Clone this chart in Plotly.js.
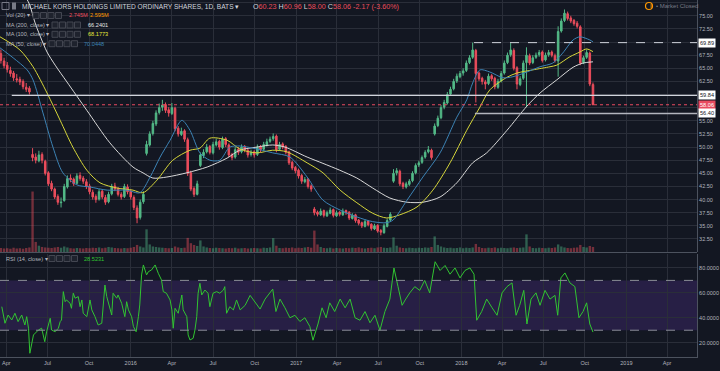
<!DOCTYPE html>
<html><head><meta charset="utf-8">
<script src="https://cdn.plot.ly/plotly-3.0.1.min.js"></script>
<style>html,body{margin:0;padding:0;background:#131722;}#chart{width:720px;height:371px;}</style>
</head><body><div id="chart"></div>
<script>
// ---------- DATA ----------
const originDate = Date.UTC(2015, 2, 18);   // day 0 of the chart
const candleStartDay = 2, candleStepDays = 7; // weekly candles
const openP = [
67.8,66.4,65.6,64.6,64.1,63.0,62.9,62.5,61.4,61.2,
48.6,48.1,47.4,48.6,47.3,45.1,43.1,42.0,40.6,39.4,
39.8,42.4,44.1,43.9,43.1,44.6,44.1,43.4,42.6,41.4,
40.6,40.1,41.6,40.4,39.6,41.1,42.6,42.1,41.0,40.6,
42.4,41.6,40.4,38.4,36.6,39.6,48.8,50.4,52.6,54.4,
56.6,57.6,58.1,57.1,56.4,57.4,53.6,52.4,53.1,51.4,
45.1,42.1,41.0,46.5,48.4,49.1,50.1,48.9,50.4,51.1,
49.9,51.6,50.4,48.6,48.1,49.6,49.1,50.1,49.4,48.6,
49.1,48.6,50.1,49.6,50.4,51.1,51.6,52.1,49.6,50.6,
50.1,49.1,47.1,46.1,45.6,44.6,43.4,43.9,42.6,38.2,
37.6,37.1,37.9,36.9,37.4,38.1,36.9,37.6,37.1,37.9,
37.6,36.4,37.1,36.1,35.6,34.9,35.9,35.3,34.4,35.1,
34.1,33.7,34.9,36.1,43.5,45.1,45.4,43.1,42.4,42.9,
43.6,45.1,46.6,47.1,48.1,49.1,49.4,52.5,54.1,55.6,
57.6,58.4,60.1,61.1,62.6,63.4,64.1,64.6,66.1,67.1,
68.4,64.1,63.1,62.4,62.1,63.6,63.1,61.4,62.6,64.1,
66.1,67.6,68.4,65.1,61.9,63.1,66.1,67.4,66.1,67.1,
67.6,68.1,66.6,67.6,68.1,67.4,66.4,72.1,74.1,75.4,
74.6,74.1,73.6,72.9,66.1,67.1,67.9,61.9];
const highP = [
68.6,67.0,66.2,65.3,64.5,63.9,63.4,62.9,62.2,61.6,
49.8,48.8,49.3,49.0,47.6,45.4,43.6,42.3,41.0,40.4,
43.0,44.6,44.8,44.2,45.0,45.2,44.5,43.9,43.0,41.9,
41.0,42.0,41.9,40.9,41.5,43.0,43.2,42.4,41.4,43.0,
42.9,41.9,40.8,38.9,40.0,41.6,51.2,53.0,55.0,57.0,
58.3,59.0,58.5,57.6,58.4,57.7,54.0,53.7,53.4,51.8,
45.5,42.5,43.6,49.0,49.6,50.6,50.4,51.0,51.6,51.4,
52.0,51.9,50.7,48.9,50.0,50.0,50.5,50.4,49.8,49.5,
49.4,50.5,50.4,51.0,51.6,52.0,52.6,52.4,51.0,50.9,
50.4,49.3,47.4,46.4,45.9,44.9,44.3,44.1,42.9,38.6,
37.9,38.3,38.1,37.9,38.5,38.3,37.9,37.8,38.3,38.1,
37.8,37.4,37.3,36.3,35.8,36.2,36.1,35.5,35.4,35.3,
34.4,35.4,36.4,37.6,45.8,46.0,45.7,43.4,43.4,43.9,
45.4,46.9,47.4,48.4,49.4,50.2,49.7,54.5,56.0,58.0,
59.0,60.5,61.5,63.0,64.0,64.5,65.0,66.5,67.5,69.9,
68.7,64.4,63.4,62.8,64.0,63.9,63.4,63.0,64.5,66.5,
68.0,69.8,68.8,65.4,63.5,66.5,69.0,67.8,67.5,68.0,
68.5,68.4,68.0,68.5,68.4,67.8,73.0,74.5,76.2,75.8,
75.0,74.4,74.0,73.2,67.4,68.6,68.2,62.3];
const lowP = [
65.9,65.0,64.2,63.4,62.6,62.3,61.8,61.0,60.5,60.0,
47.3,46.9,47.1,46.9,44.6,42.6,41.6,40.1,39.0,38.5,
39.6,42.1,43.3,42.6,42.9,43.6,43.0,42.0,41.0,40.0,
39.4,39.8,40.1,39.0,39.3,40.8,41.6,40.6,40.0,40.3,
41.0,40.0,38.0,35.5,36.2,39.2,48.4,50.1,52.2,54.0,
56.2,56.9,56.5,55.8,56.1,53.0,52.0,52.1,51.0,44.5,
41.6,40.5,40.8,46.2,47.9,48.8,48.6,48.6,50.1,49.5,
49.6,50.0,48.1,47.5,47.8,48.5,48.8,49.0,48.0,48.2,
48.0,48.3,49.0,49.3,50.1,50.8,51.2,49.0,49.3,49.6,
48.6,46.6,45.6,45.0,44.0,43.0,43.1,42.1,41.5,37.0,
36.8,36.9,36.6,36.7,37.2,36.6,36.7,36.8,36.9,37.1,
36.1,36.2,35.6,35.1,34.6,34.7,34.9,34.1,34.2,33.7,
33.2,33.5,34.7,35.8,43.2,44.6,42.6,42.0,42.1,42.6,
43.3,44.8,46.2,46.8,47.8,48.8,47.6,52.2,53.8,55.3,
57.2,58.1,59.8,60.8,62.2,63.1,63.6,64.3,65.8,66.8,
58.5,62.6,61.9,61.0,61.8,62.6,61.0,61.1,62.3,63.8,
65.8,67.2,64.6,61.0,61.6,62.8,57.6,65.6,65.8,66.8,
67.2,66.1,66.3,67.2,67.1,66.1,63.4,71.8,73.8,74.1,
73.6,73.1,72.6,65.6,65.8,66.8,61.6,58.0];
const closeP = [
66.5,65.5,64.8,64.0,63.2,62.8,62.4,61.5,61.0,60.5,
48.0,47.5,48.5,47.5,45.0,43.0,42.0,40.5,39.5,39.5,
42.5,44.0,43.8,43.0,44.5,44.0,43.5,42.5,41.5,40.5,
40.0,41.5,40.5,39.5,41.0,42.5,42.0,41.0,40.5,42.5,
41.5,40.5,38.5,36.5,39.5,41.0,50.5,52.5,54.5,56.5,
57.5,58.0,57.0,56.5,57.5,53.5,52.5,53.0,51.5,45.0,
42.0,41.0,43.0,48.5,49.0,50.0,49.0,50.5,51.0,50.0,
51.5,50.5,48.5,48.0,49.5,49.0,50.0,49.5,48.5,49.0,
48.5,50.0,49.5,50.5,51.0,51.5,52.0,49.5,50.5,50.0,
49.0,47.0,46.0,45.5,44.5,43.5,43.8,42.5,42.0,37.5,
37.2,37.8,37.0,37.5,38.0,37.0,37.5,37.2,37.8,37.5,
36.5,37.0,36.0,35.5,35.0,35.8,35.2,34.5,35.0,34.0,
33.8,35.0,36.0,37.2,45.0,45.5,43.0,42.5,43.0,43.5,
45.0,46.5,47.0,48.0,49.0,49.5,48.0,54.0,55.5,57.5,
58.5,60.0,61.0,62.5,63.5,64.0,64.5,66.0,67.0,68.5,
64.0,63.0,62.5,62.0,63.5,63.0,61.5,62.5,64.0,66.0,
67.5,68.5,65.0,62.0,63.0,66.0,67.5,66.0,67.0,67.5,
68.0,66.5,67.5,68.0,67.5,66.5,72.0,74.0,75.5,74.5,
74.0,73.5,73.0,66.0,67.0,68.0,62.0,58.06];
const volumeM = [
16,14,15,13,17,14,15,13,16,18,
240,40,25,20,18,17,16,18,20,17,
22,18,15,14,16,15,14,16,15,17,
16,18,15,17,20,18,16,15,14,16,
15,17,20,28,22,18,90,30,22,20,
18,17,16,15,16,22,18,16,17,56,
35,28,24,46,22,18,16,15,17,16,
15,14,16,15,17,14,15,16,14,15,
16,15,14,17,16,18,55,25,16,15,
17,16,18,15,17,16,18,20,17,85,
30,20,16,15,17,14,16,15,14,16,
15,17,16,18,15,14,16,17,15,18,
20,17,16,18,58,25,18,16,15,17,
16,15,17,16,18,17,20,62,28,22,
18,16,17,15,16,18,15,17,16,18,
32,20,16,15,17,16,18,15,17,16,
15,17,18,16,17,18,70,22,16,15,
17,16,15,17,16,18,30,22,18,16,
15,17,18,28,20,18,24,20];

const ma200Day = [57,66,77,88,104,122,148,192,243,294,316,338,369,413,458,502,530,568,603,630,679,714,751,789,824,862,900,935,973,1010,1045,1076,1121,1165,1194,1231,1267,1289,1311];
const ma200Val = [78.6,77.0,73.8,71.3,68.1,65.6,62.4,57.0,50.8,46.2,45.1,44.1,44.3,45.1,46.2,47.9,49.4,50.0,50.4,50.0,48.1,46.9,45.6,44.1,42.2,40.3,39.5,39.5,40.5,43.2,47.0,48.9,53.2,57.8,60.3,62.8,65.2,66.0,66.24];
const ma100Day = [0,44,73,104,133,161,192,221,259,294,316,347,382,420,442,464,502,531,568,603,634,679,714,752,789,824,855,884,922,957,995,1032,1061,1083,1121,1143,1178,1216,1231,1260,1282,1297,1311];
const ma100Val = [71.0,68.5,65.3,60.3,55.1,50.0,45.6,43.2,42.2,41.8,41.3,43.7,47.5,49.4,49.8,51.7,51.3,49.6,48.9,49.4,49.1,47.0,45.1,41.8,39.4,37.4,36.5,37.1,38.6,41.8,47.0,53.2,57.6,60.9,63.3,64.1,64.7,65.3,65.6,67.2,68.1,68.7,68.18];
const ma50Day = [0,29,60,73,95,117,139,170,199,237,281,309,332,354,376,402,420,442,464,486,508,531,559,603,641,679,714,752,789,824,855,869,900,935,973,1010,1032,1045,1061,1083,1112,1134,1165,1194,1222,1244,1267,1282,1304,1311];
const ma50Val = [68.9,67.0,64.7,62.8,56.5,50.0,45.1,42.8,42.4,41.8,41.8,41.3,44.3,48.1,51.3,55.1,53.2,48.9,47.5,47.5,50.0,50.2,49.8,48.9,48.1,44.3,39.9,38.0,36.7,35.8,35.6,36.1,39.9,44.3,48.9,55.7,59.0,62.2,64.7,64.3,63.2,63.4,64.3,65.3,66.0,67.9,70.4,71.0,70.4,70.04];

const rsiDay = [4,11,18,26,33,40,48,55,59,63,66,74,85,92,99,103,111,114,122,129,133,136,140,144,147,155,158,162,166,173,177,181,184,192,199,203,210,217,225,232,236,243,247,250,258,261,269,276,280,284,291,295,301,306,309,313,317,324,328,335,343,350,354,357,361,368,376,380,383,387,394,402,405,413,416,420,427,431,435,438,442,446,453,460,464,471,479,486,494,497,501,508,516,523,531,
542,553,564,575,586,597,603,610,619,630,641,652,663,674,685,692,703,712,721,729,740,752,763,774,785,796,807,818,829,840,851,862,871,880,889,897,906,917,928,939,950,962,973,984,995,1006,1017,1028,1039,1048,1054,1065,1076,1088,1099,1110,1121,1132,1141,1149,1158,1165,1174,1185,1194,1205,1216,1227,1233,1240,1249,1260,1271,1280,1289,1297,1304,1311];
const rsiVal = [48.9,35.6,42.2,38.2,43.6,36.9,42.2,34.2,40.9,31.6,11.5,26.2,30.2,31.6,20.8,28.8,39.6,30.2,28.8,31.6,36.9,38.2,61.0,52.9,54.3,51.6,47.6,59.7,55.7,57.0,48.9,54.3,43.6,40.9,54.3,46.3,40.9,34.2,35.6,66.3,57.0,46.3,42.2,59.7,55.7,58.3,51.6,40.9,52.9,46.3,40.9,32.9,28.8,40.9,50.3,74.4,82.4,74.4,77.0,78.4,82.4,75.7,73.0,70.4,61.0,59.7,54.3,46.3,31.6,47.6,43.6,58.3,46.3,40.9,26.2,22.2,23.5,30.2,40.9,59.7,67.7,58.3,62.3,59.7,48.9,59.7,61.0,59.7,62.3,65.0,43.6,48.9,46.3,54.3,46.3,
50,58,52,47,55,60,63,45,55,48,40,42,37,40,33,22,35,48,40,52,45,55,48,55,40,38,45,36,42,30,45,55,80,65,50,55,60,65,62,70,60,85,78,82,75,80,72,78,80,75,38,45,55,48,42,60,65,68,42,50,62,35,55,60,50,62,55,58,42,72,76,68,65,40,45,52,35,28.52];

const levelVal = [69.89, 59.84, 58.06, 56.40];
const levelStart = ['2018-01-29', '2015-04-13', '2015-03-18', '2018-01-31'];
const xRange = ['2015-03-18', '2019-06-06'];
const tickDates = ['2015-04-01','2015-07-01','2015-10-01','2016-01-01','2016-04-01','2016-07-01','2016-10-01','2017-01-01','2017-04-01','2017-07-01','2017-10-01','2018-01-01','2018-04-01','2018-07-01','2018-10-01','2019-01-01','2019-04-01'];
const tickLabels = ['Apr','Jul','Oct','2016','Apr','Jul','Oct','2017','Apr','Jul','Oct','2018','Apr','Jul','Oct','2019','Apr'];
const priceTicks = [30,32.5,35,37.5,40,42.5,45,47.5,50,52.5,55,57.5,60,62.5,65,67.5,70,72.5,75,77.5];
const priceTickText = ['','32.50','35.00','37.50','40.00','42.50','45.00','47.50','50.00','52.50','55.00','','','62.50','65.00','67.50','','72.50','75.00','77.50'];
const rsiTicks = [20,40,60,80];
const rsiTickText = ['20.0000','40.0000','60.0000','80.0000'];
const lastOHLC = {o:'60.23', h:'60.96', l:'58.00', c:'58.06', chg:'-2.17 (-3.60%)'};
const volVals = ['2.745M','2.595M'];
const maVals = ['66.2401','68.1773','70.0448'];
const rsiLast = '28.5231';

// ---------- BUILD ----------
const toDate = d => new Date(originDate + d*86400000).toISOString().slice(0,10);
const candleDates = closeP.map((_, i) => toDate(candleStartDay + candleStepDays*i));
const UP = '#53b987', DOWN = '#eb4d5c';
const BG = '#131722', GRID = '#2a2e39', TXT = '#b2b5be';
const FONT = '"Liberation Sans", Arial, sans-serif';

const traces = [
 {type:'bar', x:candleDates, y:volumeM, yaxis:'y3', xaxis:'x',
  marker:{color: closeP.map((c,i)=> c>=openP[i] ? 'rgba(83,185,135,0.45)' : 'rgba(235,77,92,0.45)'), line:{width:0}},
  hoverinfo:'skip', showlegend:false},
 {type:'candlestick', x:candleDates, open:openP, high:highP, low:lowP, close:closeP, xaxis:'x', yaxis:'y',
  increasing:{line:{color:UP, width:1}, fillcolor:UP}, decreasing:{line:{color:DOWN, width:1}, fillcolor:DOWN},
  whiskerwidth:0, showlegend:false, hoverinfo:'skip'},
 {type:'scatter', mode:'lines', x:ma200Day.map(toDate), y:ma200Val, line:{color:'#d9d9d9', width:1, shape:'spline', smoothing:0.8}, yaxis:'y', showlegend:false, hoverinfo:'skip'},
 {type:'scatter', mode:'lines', x:ma100Day.map(toDate), y:ma100Val, line:{color:'#d6d63a', width:1, shape:'spline', smoothing:0.8}, yaxis:'y', showlegend:false, hoverinfo:'skip'},
 {type:'scatter', mode:'lines', x:ma50Day.map(toDate), y:ma50Val, line:{color:'#3c83b5', width:1, shape:'spline', smoothing:0.8}, yaxis:'y', showlegend:false, hoverinfo:'skip'},
 {type:'scatter', mode:'lines', x:rsiDay.map(toDate), y:rsiVal, line:{color:'#31c431', width:1}, yaxis:'y2', showlegend:false, hoverinfo:'skip'}
];

const W = 697, H = 357;
const px = x => x / W, py = y => 1 - y / H;
const shapes = [];
const annotations = [];
// RSI band and bounds
shapes.push({type:'rect', xref:'paper', yref:'y2', x0:0, x1:1, y0:30, y1:70, fillcolor:'rgba(103,58,183,0.24)', line:{width:0}, layer:'below'});
[70,30].forEach(v => shapes.push({type:'line', xref:'paper', yref:'y2', x0:0, x1:1, y0:v, y1:v, line:{color:'#8a8d96', width:1, dash:'dash'}}));
// price levels
const levelStyle = [{color:'#d1d4dc', width:1, dash:'dash'}, {color:'#d1d4dc', width:1.2}, {color:'#e84a5f', width:1, dash:'dot'}, {color:'#b2b5be', width:1.5}];
levelVal.forEach((v,i) => shapes.push({type:'line', xref:'x', yref:'y', x0:levelStart[i], x1:xRange[1], y0:v, y1:v, line:levelStyle[i]}));
// pane separator
shapes.push({type:'line', xref:'paper', yref:'paper', x0:0, x1:1, y0:py(252.5), y1:py(252.5), line:{color:'#4c525e', width:1}});
// right-axis value tags
const tagBg = ['#ffffff','#ffffff','#e84a5f','#ffffff'];
const tagFg = ['#131722','#131722','#ffffff','#131722'];
levelVal.forEach((v,i) => annotations.push({xref:'paper', yref:'y', x:1, y:v, xanchor:'left', yanchor:'middle', xshift:1,
  text:v.toFixed(2), showarrow:false, bgcolor:tagBg[i], borderpad:1, font:{family:FONT, size:5.6, color:tagFg[i]}}));

const ann = (x, y, text, color, size) => annotations.push({xref:'paper', yref:'paper', x:px(x), y:py(y), xanchor:'left', yanchor:'middle',
  text, showarrow:false, font:{family:FONT, size:size||6, color:color||'#d1d4dc'}});
const iconRow = (x0, y) => { for (let k=0;k<4;k++) shapes.push({type:'rect', xref:'paper', yref:'paper', x0:px(x0+k*7.5), x1:px(x0+k*7.5+6), y0:py(y+3), y1:py(y-3), line:{color:'#434651', width:1}, fillcolor:'#1e222d'}); };

// header
shapes.push({type:'rect', xref:'paper', yref:'paper', x0:px(2), x1:px(9), y0:py(9.5), y1:py(2.5), line:{color:'#787b86', width:1}, fillcolor:'rgba(0,0,0,0)'});
shapes.push({type:'rect', xref:'paper', yref:'paper', x0:px(12), x1:px(16), y0:py(9.5), y1:py(2.5), line:{width:0}, fillcolor:'#787b86'});
ann(20, 6, 'MICHAEL KORS HOLDINGS LIMITED ORDINARY SHARES, 1D, BATS ▾', '#d1d4dc', 6.6);
const R = '#eb4d5c', Wt = '#d1d4dc';
ann(251, 6, `<span style="color:${Wt}">O</span><span style="color:${R}">${lastOHLC.o}</span> <span style="color:${Wt}">H</span><span style="color:${R}">${lastOHLC.h}</span> <span style="color:${Wt}">L</span><span style="color:${R}">${lastOHLC.l}</span> <span style="color:${Wt}">C</span><span style="color:${R}">${lastOHLC.c}</span> <span style="color:${R}">${lastOHLC.chg}</span>`, R, 7.2);
ann(4, 15.5, 'Vol (20) ▾', '#b2b5be', 5.6); iconRow(33, 15.5);
ann(67, 15.5, volVals[0], '#eb4d5c', 5.6); ann(88, 15.5, volVals[1], '#ff9800', 5.6);
ann(4, 25, 'MA (200, close) ▾', '#b2b5be', 5.6); iconRow(52, 25); ann(86, 25, maVals[0], '#e6e6e6', 5.6);
ann(4, 34.3, 'MA (100, close) ▾', '#b2b5be', 5.6); iconRow(52, 34.3); ann(86, 34.3, maVals[1], '#e6e63a', 5.6);
ann(4, 43.7, 'MA (50, close) ▾', '#b2b5be', 5.6); iconRow(49, 43.7); ann(82, 43.7, maVals[2], '#3c83b5', 5.6);
ann(4, 258.5, 'RSI (14, close) ▾', '#b2b5be', 5.6); iconRow(49, 258.5); ann(82, 258.5, rsiLast, '#31c431', 5.6);
// market closed
shapes.push({type:'circle', xref:'paper', yref:'paper', x0:px(645.5), x1:px(652.5), y0:py(9.5), y1:py(2.5), line:{color:'#ff9800', width:1.2}});
ann(647.6, 6, '‖', '#ff9800', 5);
ann(654, 6, '• Market Closed', '#787b86', 6);

const layout = {
  width:720, height:371, margin:{l:0, r:23, t:0, b:14},
  paper_bgcolor:BG, plot_bgcolor:BG, showlegend:false, dragmode:false,
  font:{family:FONT, color:TXT, size:5.5},
  xaxis:{type:'date', range:xRange, domain:[0,1], anchor:'y2', rangeslider:{visible:false},
    tickvals:tickDates, ticktext:tickLabels, tickfont:{size:5.5, color:TXT, family:FONT},
    showgrid:true, gridcolor:GRID, gridwidth:1, zeroline:false, showline:true, linecolor:'#4c525e', ticks:'', fixedrange:true},
  yaxis:{domain:[1-252/H, 1], range:[30.02, 78.01], side:'right', anchor:'x', tickvals:priceTicks, ticktext:priceTickText,
    showgrid:true, gridcolor:GRID, zeroline:false, showline:true, linecolor:'#4c525e', ticks:'', tickfont:{size:5.5, color:TXT, family:FONT}, fixedrange:true},
  yaxis2:{domain:[0, 1-254/H], range:[8.5, 91.2], side:'right', anchor:'x', tickvals:rsiTicks, ticktext:rsiTickText,
    showgrid:true, gridcolor:GRID, zeroline:false, showline:true, linecolor:'#4c525e', ticks:'', tickfont:{size:5.5, color:TXT, family:FONT}, fixedrange:true},
  yaxis3:{overlaying:'y', range:[0, 1000], visible:false, fixedrange:true},
  bargap:0.25,
  shapes, annotations
};
Plotly.newPlot('chart', traces, layout, {staticPlot:true, displayModeBar:false});
</script>
</body></html>
